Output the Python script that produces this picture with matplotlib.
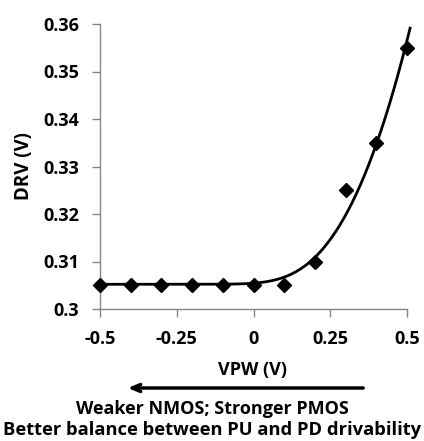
import numpy as np
import matplotlib
matplotlib.use("Agg")
import matplotlib.pyplot as plt

plt.rcParams['font.family'] = ['Open Sans', 'DejaVu Sans']
plt.rcParams['font.weight'] = 'bold'

# measured DRV vs VPW
vpw = [-0.5, -0.4, -0.3, -0.2, -0.1, 0.0, 0.1, 0.2, 0.3, 0.4, 0.5]
drv = [0.305, 0.305, 0.305, 0.305, 0.305, 0.305, 0.305, 0.31, 0.325, 0.335, 0.355]
xticks = [-0.5, -0.25, 0, 0.25, 0.5]
xtick_labels = ['-0.5', '-0.25', '0', '0.25', '0.5']
yticks = [0.3, 0.31, 0.32, 0.33, 0.34, 0.35, 0.36]
ytick_labels = ['0.3', '0.31', '0.32', '0.33', '0.34', '0.35', '0.36']

fig = plt.figure(figsize=(4.24, 4.41), dpi=100)
ax = fig.add_axes([100 / 424, 1 - 309 / 441, 307 / 424, 285 / 441])

# trend curve: flat floor then a power-law rise, y = c + a*softplus(x)^p
x = np.array(vpw)
y = np.array(drv)


def basis(v, s=12.0, p=2.5):
    return (np.log1p(np.exp(s * v)) / s) ** p


A = np.column_stack([np.ones_like(x), basis(x)])
c, a = np.linalg.lstsq(A, y, rcond=None)[0]
xs = np.linspace(-0.5, 0.51, 300)
ax.plot(xs, c + a * basis(xs), color='black', lw=2, clip_on=False, zorder=2)
ax.plot(vpw, drv, linestyle='none', marker='D', markersize=7,
        color='black', clip_on=False, zorder=3)

ax.set_xlim(-0.5, 0.5)
ax.set_ylim(0.3, 0.36)
ax.set_xticks(xticks)
ax.set_xticklabels(xtick_labels)
ax.set_yticks(yticks)
ax.set_yticklabels(ytick_labels)
for sp in ['top', 'right']:
    ax.spines[sp].set_visible(False)
for sp in ['left', 'bottom']:
    ax.spines[sp].set_color('#868686')
    ax.spines[sp].set_linewidth(1)
ax.tick_params(direction='out', length=6, width=1, color='#868686',
               labelsize=13, pad=9)
for lab in ax.get_xticklabels() + ax.get_yticklabels():
    lab.set_fontweight('bold')

ax.set_ylabel('DRV (V)', fontsize=13.5, fontweight='bold')
ax.yaxis.set_label_coords(-66 / 307, 0.5)
fig.text(253 / 424, 1 - 370 / 441, 'VPW (V)', ha='center', va='center',
         fontsize=13, fontweight='bold')

ax.annotate('', xy=(125 / 424, 1 - 388 / 441), xytext=(366 / 424, 1 - 388 / 441),
            xycoords='figure fraction', textcoords='figure fraction',
            arrowprops=dict(arrowstyle='->,head_length=0.6,head_width=0.25',
                            color='black', lw=2.5))

fig.text(212 / 424, 1 - 409 / 441, 'Weaker NMOS; Stronger PMOS', ha='center',
         va='center', fontsize=13, fontweight='bold')
fig.text(212 / 424, 1 - 430 / 441, 'Better balance between PU and PD drivability',
         ha='center', va='center', fontsize=13.2, fontweight='bold')

fig.savefig('out.png', dpi=100)
